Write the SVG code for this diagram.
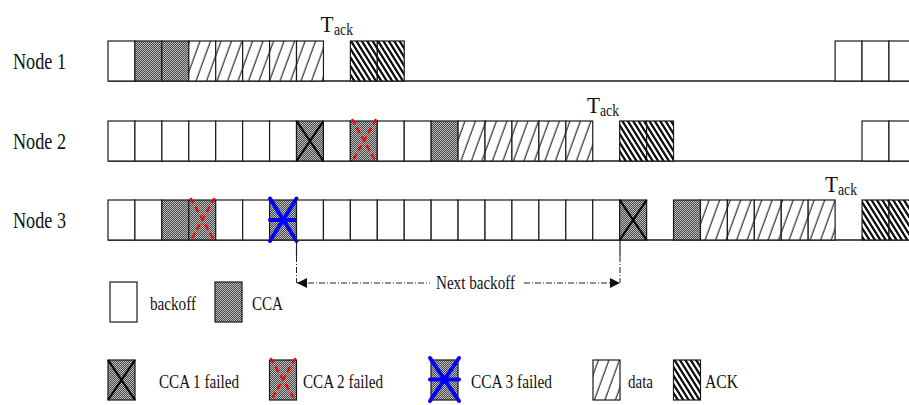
<svg xmlns="http://www.w3.org/2000/svg" width="909" height="405" viewBox="0 0 909 405">
<style>
text{font-family:"Liberation Serif","Times New Roman",serif;fill:#111}
.lbl{font-size:23px}
.leg{font-size:19px}
.T{font-size:24px}
.sub{font-size:16px}
rect.c{stroke:#1a1a1a;stroke-width:1.2}
.bk{fill:#fff}
.cca{fill:url(#pCCA)}
.data{fill:url(#pData)}
.ack{fill:url(#pAck)}
.base{stroke:#1a1a1a;stroke-width:1.4;fill:none}
.xb{stroke:#000;stroke-width:2.2;fill:none}
.xr{stroke:#ff0000;stroke-width:2.2;stroke-dasharray:6 4;fill:none}
.xbl{stroke:#0000ff;stroke-width:4;stroke-linecap:round;fill:none}
.dd{stroke:#222;stroke-width:1;stroke-dasharray:6 2 1 2;fill:none}
.sol{stroke:#222;stroke-width:1.2;fill:none}
</style>
<defs>
<pattern id="pCCA" patternUnits="userSpaceOnUse" width="2" height="2">
<rect width="2" height="2" fill="#4a4a4a"/>
<rect width="1" height="1" fill="#bdbdbd"/>
<rect x="1" y="1" width="1" height="1" fill="#bdbdbd"/>
</pattern>
<pattern id="pData" patternUnits="userSpaceOnUse" width="10.5" height="10" patternTransform="skewX(-20)">
<rect width="10.5" height="10" fill="#fff"/>
<line x1="5" y1="-1" x2="5" y2="11" stroke="#222" stroke-width="1.2"/>
</pattern>
<pattern id="pAck" patternUnits="userSpaceOnUse" width="5.4" height="10" patternTransform="skewX(32)">
<rect width="5.4" height="10" fill="#fff"/>
<rect width="2.7" height="10" fill="#111"/>
</pattern>
<marker id="ah" viewBox="0 0 10 10" refX="10" refY="5" markerWidth="10" markerHeight="10" markerUnits="userSpaceOnUse" orient="auto-start-reverse">
<path d="M0,0 L10,5 L0,10 Z" fill="#111"/>
</marker>
</defs>
<rect width="909" height="405" fill="#fff"/>

<g id="node1">
<text class="lbl" x="13" y="69" textLength="53" lengthAdjust="spacingAndGlyphs">Node 1</text>
<line class="base" x1="108" y1="81" x2="909" y2="81"/>
<rect class="c bk" x="108" y="41" width="26.93" height="40"/>
<rect class="c cca" x="134.93" y="41" width="26.93" height="40"/>
<rect class="c cca" x="161.86" y="41" width="26.93" height="40"/>
<rect class="c data" x="188.79" y="41" width="26.93" height="40"/>
<rect class="c data" x="215.72" y="41" width="26.93" height="40"/>
<rect class="c data" x="242.65" y="41" width="26.93" height="40"/>
<rect class="c data" x="269.58" y="41" width="26.93" height="40"/>
<rect class="c data" x="296.51" y="41" width="26.93" height="40"/>
<rect class="c ack" x="350.37" y="41" width="26.93" height="40"/>
<rect class="c ack" x="377.30" y="41" width="26.93" height="40"/>
<rect class="c bk" x="835.11" y="41" width="26.93" height="40"/>
<rect class="c bk" x="862.04" y="41" width="26.93" height="40"/>
<rect class="c bk" x="888.97" y="41" width="26.93" height="40"/>
<text class="T" x="320.5" y="32" textLength="13" lengthAdjust="spacingAndGlyphs">T</text>
<text class="sub" x="334" y="35" textLength="19" lengthAdjust="spacingAndGlyphs">ack</text>
</g>

<g id="node2">
<text class="lbl" x="13" y="149" textLength="53" lengthAdjust="spacingAndGlyphs">Node 2</text>
<line class="base" x1="108" y1="161" x2="909" y2="161"/>
<rect class="c bk" x="108" y="121" width="26.93" height="40"/>
<rect class="c bk" x="134.93" y="121" width="26.93" height="40"/>
<rect class="c bk" x="161.86" y="121" width="26.93" height="40"/>
<rect class="c bk" x="188.79" y="121" width="26.93" height="40"/>
<rect class="c bk" x="215.72" y="121" width="26.93" height="40"/>
<rect class="c bk" x="242.65" y="121" width="26.93" height="40"/>
<rect class="c bk" x="269.58" y="121" width="26.93" height="40"/>
<rect class="c cca" x="296.51" y="121" width="26.93" height="40"/>
<path class="xb" d="M296.51,121 L323.44,161 M323.44,121 L296.51,161"/>
<rect class="c bk" x="323.44" y="121" width="26.93" height="40"/>
<rect class="c cca" x="350.37" y="121" width="26.93" height="40"/>
<path class="xr" d="M352,119 L376,162 M376,119 L352,162"/>
<rect class="c bk" x="377.30" y="121" width="26.93" height="40"/>
<rect class="c bk" x="404.23" y="121" width="26.93" height="40"/>
<rect class="c cca" x="431.16" y="121" width="26.93" height="40"/>
<rect class="c data" x="458.09" y="121" width="26.93" height="40"/>
<rect class="c data" x="485.02" y="121" width="26.93" height="40"/>
<rect class="c data" x="511.95" y="121" width="26.93" height="40"/>
<rect class="c data" x="538.88" y="121" width="26.93" height="40"/>
<rect class="c data" x="565.81" y="121" width="26.93" height="40"/>
<rect class="c ack" x="619.67" y="121" width="26.93" height="40"/>
<rect class="c ack" x="646.60" y="121" width="26.93" height="40"/>
<rect class="c bk" x="862.04" y="121" width="26.93" height="40"/>
<rect class="c bk" x="888.97" y="121" width="26.93" height="40"/>
<text class="T" x="587" y="113" textLength="13" lengthAdjust="spacingAndGlyphs">T</text>
<text class="sub" x="600" y="116" textLength="19" lengthAdjust="spacingAndGlyphs">ack</text>
</g>

<g id="node3">
<text class="lbl" x="13" y="228" textLength="53" lengthAdjust="spacingAndGlyphs">Node 3</text>
<line class="base" x1="108" y1="240" x2="909" y2="240"/>
<rect class="c bk" x="108" y="200" width="26.93" height="40"/>
<rect class="c bk" x="134.93" y="200" width="26.93" height="40"/>
<rect class="c cca" x="161.86" y="200" width="26.93" height="40"/>
<rect class="c cca" x="188.79" y="200" width="26.93" height="40"/>
<path class="xr" d="M190.5,198 L214.5,241 M214.5,198 L190.5,241"/>
<rect class="c bk" x="215.72" y="200" width="26.93" height="40"/>
<rect class="c bk" x="242.65" y="200" width="26.93" height="40"/>
<rect class="c cca" x="269.58" y="200" width="26.93" height="40"/>
<path class="xbl" d="M270,198.5 L296.5,241 M296.5,198.5 L270,241 M270,220 L296.5,220"/>
<rect class="c bk" x="296.51" y="200" width="26.93" height="40"/>
<rect class="c bk" x="323.44" y="200" width="26.93" height="40"/>
<rect class="c bk" x="350.37" y="200" width="26.93" height="40"/>
<rect class="c bk" x="377.30" y="200" width="26.93" height="40"/>
<rect class="c bk" x="404.23" y="200" width="26.93" height="40"/>
<rect class="c bk" x="431.16" y="200" width="26.93" height="40"/>
<rect class="c bk" x="458.09" y="200" width="26.93" height="40"/>
<rect class="c bk" x="485.02" y="200" width="26.93" height="40"/>
<rect class="c bk" x="511.95" y="200" width="26.93" height="40"/>
<rect class="c bk" x="538.88" y="200" width="26.93" height="40"/>
<rect class="c bk" x="565.81" y="200" width="26.93" height="40"/>
<rect class="c bk" x="592.74" y="200" width="26.93" height="40"/>
<rect class="c cca" x="619.67" y="200" width="26.93" height="40"/>
<path class="xb" d="M619.67,200 L646.6,240 M646.6,200 L619.67,240"/>
<rect class="c cca" x="673.53" y="200" width="26.93" height="40"/>
<rect class="c data" x="700.46" y="200" width="26.93" height="40"/>
<rect class="c data" x="727.39" y="200" width="26.93" height="40"/>
<rect class="c data" x="754.32" y="200" width="26.93" height="40"/>
<rect class="c data" x="781.25" y="200" width="26.93" height="40"/>
<rect class="c data" x="808.18" y="200" width="26.93" height="40"/>
<rect class="c ack" x="862.04" y="200" width="26.93" height="40"/>
<rect class="c ack" x="888.97" y="200" width="26.93" height="40"/>
<text class="T" x="825" y="192" textLength="13" lengthAdjust="spacingAndGlyphs">T</text>
<text class="sub" x="838" y="195" textLength="19" lengthAdjust="spacingAndGlyphs">ack</text>
</g>

<g id="connectors">
<line class="sol" x1="296.5" y1="240" x2="296.5" y2="256"/>
<line class="dd" x1="296.5" y1="256" x2="296.5" y2="283"/>
<line class="sol" x1="620" y1="240" x2="620" y2="256"/>
<line class="dd" x1="620" y1="256" x2="620" y2="283"/>
<line class="dd" x1="297" y1="283" x2="430" y2="283" marker-start="url(#ah)"/>
<line class="dd" x1="524" y1="283" x2="620" y2="283" marker-end="url(#ah)"/>
<text class="leg" x="436" y="289" textLength="79" lengthAdjust="spacingAndGlyphs">Next backoff</text>
</g>

<g id="legend-backoff">
<rect class="c bk" x="110" y="282" width="27" height="40"/>
<text class="leg" x="150" y="310" textLength="46" lengthAdjust="spacingAndGlyphs">backoff</text>
</g>
<g id="legend-cca">
<rect class="c cca" x="215" y="282" width="27" height="40"/>
<text class="leg" x="252" y="310" textLength="31" lengthAdjust="spacingAndGlyphs">CCA</text>
</g>
<g id="legend-cca1">
<rect class="c cca" x="108" y="360" width="27" height="40"/>
<path class="xb" d="M108,360 L135,400 M135,360 L108,400"/>
<text class="leg" x="159" y="388" textLength="80" lengthAdjust="spacingAndGlyphs">CCA 1 failed</text>
</g>
<g id="legend-cca2">
<rect class="c cca" x="269.5" y="360" width="27" height="40"/>
<path class="xr" d="M270.5,358 L295.5,401 M295.5,358 L270.5,401"/>
<text class="leg" x="303" y="388" textLength="80" lengthAdjust="spacingAndGlyphs">CCA 2 failed</text>
</g>
<g id="legend-cca3">
<rect class="c cca" x="431" y="360" width="27" height="40"/>
<path class="xbl" d="M430,358 L459,401 M459,358 L430,401 M430,379.5 L459,379.5"/>
<text class="leg" x="471" y="388" textLength="81" lengthAdjust="spacingAndGlyphs">CCA 3 failed</text>
</g>
<g id="legend-data">
<rect class="c data" x="593" y="360" width="27" height="40"/>
<text class="leg" x="628" y="388" textLength="25" lengthAdjust="spacingAndGlyphs">data</text>
</g>
<g id="legend-ack">
<rect class="c ack" x="673.5" y="360" width="27" height="40"/>
<text class="leg" x="705" y="388" textLength="33" lengthAdjust="spacingAndGlyphs">ACK</text>
</g>
</svg>
